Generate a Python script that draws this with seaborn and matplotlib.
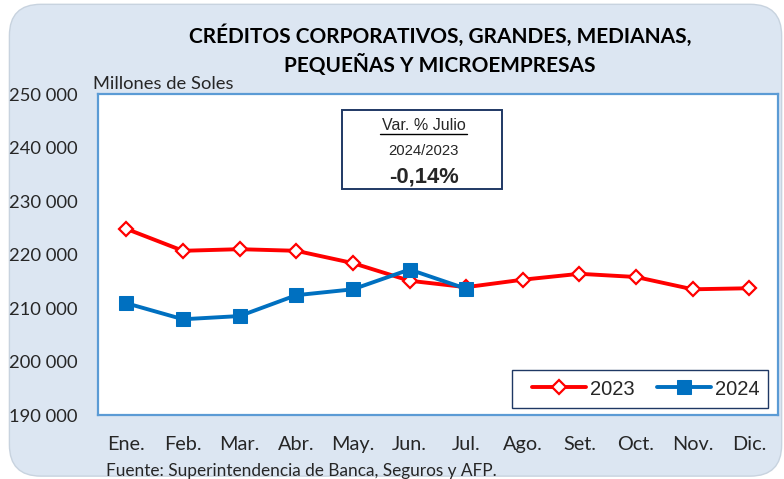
import matplotlib
matplotlib.use("Agg")
import matplotlib.pyplot as plt
import matplotlib.ticker as mticker
from matplotlib.patches import FancyBboxPatch, Rectangle
import pandas as pd
import seaborn as sns

MONTHS = ["Ene.", "Feb.", "Mar.", "Abr.", "May.", "Jun.", "Jul.",
          "Ago.", "Set.", "Oct.", "Nov.", "Dic."]
VALUES_2023 = [224800, 220700, 221000, 220700, 218400, 215100, 213900,
               215300, 216400, 215800, 213500, 213700]
VALUES_2024 = [210900, 207900, 208500, 212400, 213500, 217200, 213600]
Y_TICKS = [190000, 200000, 210000, 220000, 230000, 240000, 250000]

BG = "#dce6f2"
RED = "#ff0000"
BLUE = "#0070c0"
AXIS_BLUE = "#5b9bd5"
NAVY = "#1f3864"

sns.set_style("white")
plt.rcParams["font.family"] = ["Lato", "DejaVu Sans"]

df23 = pd.DataFrame({"x": range(len(VALUES_2023)), "v": VALUES_2023})
df24 = pd.DataFrame({"x": range(len(VALUES_2024)), "v": VALUES_2024})

fig = plt.figure(figsize=(7.84, 4.79), dpi=100, facecolor="white")
bg = FancyBboxPatch((0.012, 0.006), 0.985, 0.985, boxstyle="round,pad=0,rounding_size=0.04",
                    transform=fig.transFigure, facecolor=BG, edgecolor="#c8d3df",
                    linewidth=1, mutation_aspect=784 / 479, zorder=-10)
fig.patches.append(bg)

ax = fig.add_axes([0.125, 0.1336, 0.867, 0.670])
ax.set_facecolor("white")

sns.lineplot(data=df23, x="x", y="v", ax=ax, color=RED, linewidth=2.8,
             marker="D", markersize=7.5, markerfacecolor="white",
             markeredgecolor=RED, markeredgewidth=1.6, label="2023")
sns.lineplot(data=df24, x="x", y="v", ax=ax, color=BLUE, linewidth=2.8,
             marker="s", markersize=9.5, markerfacecolor=BLUE,
             markeredgecolor=BLUE, label="2024")

ax.set_xlim(-0.5, len(MONTHS) - 0.5)
ax.set_ylim(Y_TICKS[0], Y_TICKS[-1])
ax.set_yticks(Y_TICKS)
ax.yaxis.set_major_formatter(mticker.FuncFormatter(lambda v, p: f"{int(v):,}".replace(",", " ")))
ax.set_xticks(range(len(MONTHS)))
ax.set_xticklabels(MONTHS)
ax.set_xticks([i - 0.5 for i in range(len(MONTHS) + 1)], minor=True)
ax.tick_params(axis="x", which="major", length=0, pad=15, labelsize=14.3, labelcolor="#262626")
ax.tick_params(axis="x", which="minor", length=5, direction="out", color=AXIS_BLUE, width=1.2)
ax.tick_params(axis="y", length=5, direction="out", color=AXIS_BLUE, width=1.2,
               labelsize=13.2, labelcolor="#262626", pad=9.5)
ax.set_xlabel("")
ax.set_ylabel("")
for s in ax.spines.values():
    s.set_color(AXIS_BLUE)
    s.set_linewidth(1.6)

# legend frame drawn separately to match the wide left padding
ax.add_patch(Rectangle((0.609, 0.022), 0.376, 0.118, transform=ax.transAxes,
                       facecolor="white", edgecolor=NAVY, linewidth=1.0, zorder=4))
leg = ax.legend(loc="center", ncol=2, frameon=False,
                prop={"family": "Liberation Sans", "size": 14.5}, handlelength=2.7,
                columnspacing=1.1, handletextpad=0.2, borderpad=0.0,
                bbox_to_anchor=(0.806, 0.081))
leg.set_zorder(5)

# annotation box
box = FancyBboxPatch((0.359, 0.704), 0.235, 0.246, boxstyle="square,pad=0",
                     transform=ax.transAxes, facecolor="white", edgecolor=NAVY, linewidth=1.4)
ax.add_patch(box)
ax.text(0.479, 0.902, "Var. % Julio", transform=ax.transAxes, ha="center", va="center",
        family="Liberation Sans", fontsize=11.5)
ax.plot([0.415, 0.543], [0.876, 0.876], transform=ax.transAxes, color="black", linewidth=1.0)
ax.text(0.479, 0.822, "2024/2023", transform=ax.transAxes, ha="center", va="center",
        family="Liberation Sans", fontsize=10.7)
ax.text(0.479, 0.741, "-0,14%", transform=ax.transAxes, ha="center", va="center",
        family="Liberation Sans", fontsize=15.8, fontweight="bold")

fig.text(0.561, 0.895, "CRÉDITOS CORPORATIVOS, GRANDES, MEDIANAS,\nPEQUEÑAS Y MICROEMPRESAS",
         ha="center", va="center", fontsize=15, fontweight="bold", linespacing=1.35, color="black")
fig.text(0.119, 0.808, "Millones de Soles", ha="left", va="bottom", fontsize=13.2, color="#262626")
fig.text(0.135, 0.0, "Fuente: Superintendencia de Banca, Seguros y AFP.", ha="left",
         va="bottom", fontsize=12.4, color="#262626")

fig.savefig("out.png", dpi=100, facecolor="white")
